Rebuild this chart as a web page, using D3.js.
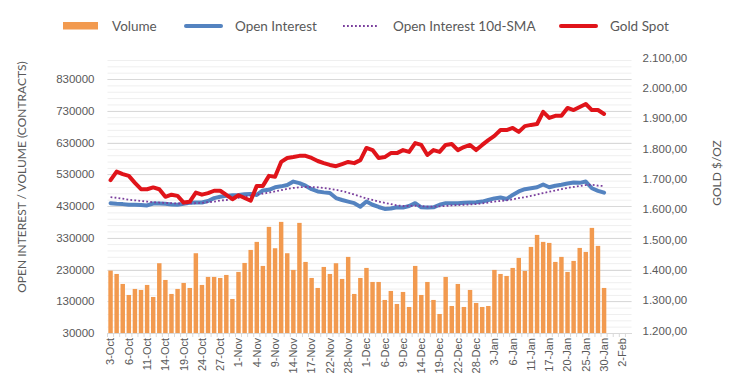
<!DOCTYPE html>
<html><head><meta charset="utf-8">
<script src="https://cdn.jsdelivr.net/npm/d3@7"></script>
<style>
body{margin:0;background:#fff;}
svg{display:block;font-family:Lato,"Open Sans",sans-serif;}
</style></head>
<body><svg id="c" width="753" height="375"></svg>
<script>
const dates = ["3-Oct","4-Oct","5-Oct","6-Oct","7-Oct","10-Oct","11-Oct","12-Oct","13-Oct","14-Oct","17-Oct","18-Oct","19-Oct","20-Oct","21-Oct","24-Oct","25-Oct","26-Oct","27-Oct","28-Oct","31-Oct",
"1-Nov","2-Nov","3-Nov","4-Nov","7-Nov","8-Nov","9-Nov","10-Nov","11-Nov","14-Nov","15-Nov","16-Nov","17-Nov","18-Nov","21-Nov","22-Nov","23-Nov","25-Nov","28-Nov","29-Nov","30-Nov",
"1-Dec","2-Dec","5-Dec","6-Dec","7-Dec","8-Dec","9-Dec","12-Dec","13-Dec","14-Dec","15-Dec","16-Dec","19-Dec","20-Dec","21-Dec","22-Dec","23-Dec","27-Dec","28-Dec","29-Dec","30-Dec",
"3-Jan","4-Jan","5-Jan","6-Jan","9-Jan","10-Jan","11-Jan","12-Jan","13-Jan","17-Jan","18-Jan","19-Jan","20-Jan","23-Jan","24-Jan","25-Jan","26-Jan","27-Jan","30-Jan","31-Jan",
"1-Feb","2-Feb","3-Feb"];

const volume = [226500,216000,184500,149800,168800,165600,181400,143500,249800,197100,153000,168800,187700,171900,281300,181400,206600,206600,203400,212900,137200,
222400,250700,291700,317000,241300,364300,297000,380000,281300,228700,376900,253900,203400,171900,238100,216000,249800,200300,269700,153000,203400,
235000,190800,190800,134100,162400,121500,159300,112000,241300,149800,190800,134100,89900,206600,115100,184500,112000,165600,124600,112000,115100,
228700,216000,209700,235000,266500,225500,301200,339000,317000,313800,253900,269700,222400,257100,298000,285400,361100,304400,171900];

const openInterest = [439000,437000,436000,434000,434000,433000,432000,438000,438000,437000,435000,434000,437000,440000,441000,441000,446000,455000,459000,462000,464000,
465000,467000,468000,465000,479000,481000,489000,492000,496000,507000,502000,494000,483000,476000,473000,471000,455000,449000,444000,439000,428000,
444000,434000,427000,421000,422000,426000,425000,430000,439000,426000,425000,426000,434000,439000,439000,439000,440000,441000,442000,444000,449000,
454000,457000,452000,465000,476000,483000,486000,489000,498000,489000,494000,497000,501000,504000,503000,507000,486000,478000,472000];

const oiSMA = [458000,456000,453000,450000,448000,446000,444000,442000,441000,440000,439000,438000,438000,438000,439000,440000,442000,444000,447000,449000,452000,
456000,460000,463000,466000,469000,472000,476000,480000,484000,487000,489000,490000,490000,489000,487000,484000,481000,477000,472000,466000,460000,
454000,449000,444000,440000,436000,432000,430000,430000,431000,430000,428000,428000,429000,430000,432000,433000,434000,435000,436000,438000,441000,
444000,446000,448000,451000,455000,458000,462000,466000,471000,475000,479000,483000,487000,490000,493000,496000,497000,494000,493000];

const goldSpot = [1704,1732,1724,1718,1695,1674,1674,1680,1674,1649,1656,1652,1630,1633,1663,1656,1661,1669,1669,1655,1641,
1654,1645,1636,1685,1685,1718,1715,1764,1777,1780,1784,1784,1777,1767,1760,1754,1750,1757,1764,1760,1770,
1810,1803,1777,1780,1793,1793,1803,1797,1826,1820,1787,1803,1797,1820,1823,1803,1813,1820,1803,1820,1836,
1850,1869,1869,1876,1863,1882,1886,1889,1929,1909,1916,1916,1942,1935,1945,1955,1935,1935,1922];

const leftTicks = [30000,130000,230000,330000,430000,530000,630000,730000,830000];
const rightTicks = [1200,1300,1400,1500,1600,1700,1800,1900,2000,2100];

const legendItems = ["Volume","Open Interest","Open Interest 10d-SMA","Gold Spot"];

const C = {vol:"#F29A4F", oi:"#5483C0", sma:"#7A3E9D", gold:"#E0141A", grid:"#D9D9D9", minor:"#EFEFEF", text:"#595959"};

const svg = d3.select("#c");
const L = 107.5, R = 631.5, T = 60, B = 333;

const x = d3.scaleBand().domain(dates).range([L, R]).paddingInner(0.27).paddingOuter(0.135);
const xc = d => x(d) + x.bandwidth()/2;
const yL = d3.scaleLinear().domain([30000, 890000]).range([B, T]);
const yR = d3.scaleLinear().domain([1200, 2100]).range([B, T]);

// minor gridlines
const minorVals = d3.range(30000, 890001, 20000);
svg.append("g").selectAll("line").data(minorVals).join("line")
  .attr("x1", L).attr("x2", R).attr("y1", d=>yL(d)+0.5).attr("y2", d=>yL(d)+0.5)
  .attr("stroke", C.minor).attr("stroke-width",1);
svg.append("g").selectAll("line").data(leftTicks.slice(1)).join("line")
  .attr("x1", L).attr("x2", R).attr("y1", d=>Math.round(yL(d))+0.5).attr("y2", d=>Math.round(yL(d))+0.5)
  .attr("stroke", C.grid).attr("stroke-width",1);

// bars
svg.append("g").selectAll("rect").data(volume).join("rect")
  .attr("x", (d,i)=>x(dates[i])).attr("width", x.bandwidth())
  .attr("y", d=>yL(d)).attr("height", d=>B - yL(d)).attr("fill", C.vol);

// x axis
const xAxis = d3.axisBottom(x).tickSizeOuter(0).tickSize(0)
  .tickValues(dates.filter((d,i)=>i%3===0));
const gx = svg.append("g").attr("transform",`translate(0,${B})`).call(xAxis);
gx.select(".domain").attr("stroke", C.grid);
gx.selectAll("text").attr("fill", C.text).style("font-size","11px")
  .attr("transform","rotate(-90)").attr("text-anchor","end")
  .attr("x",-5).attr("y",0).attr("dy","0.35em");
svg.append("g").selectAll("line").data(dates).join("line")
  .attr("x1",(d)=>x(d)-x.step()*x.paddingInner()/2).attr("x2",(d)=>x(d)-x.step()*x.paddingInner()/2)
  .attr("y1",B).attr("y2",B+4).attr("stroke",C.grid);

// left axis
const gl = svg.append("g").attr("transform",`translate(${L},0)`)
  .call(d3.axisLeft(yL).tickValues(leftTicks).tickSize(0).tickPadding(13).tickFormat(d3.format("d")));
gl.select(".domain").remove();
gl.selectAll("text").attr("fill",C.text).style("font-size","11.5px");

// right axis
const fmtR = d => { const s = d3.format(",.2f")(d); return s.replace(/,/g,"#").replace(".",",").replace(/#/g,"."); };
const gr = svg.append("g").attr("transform",`translate(${R},0)`)
  .call(d3.axisRight(yR).tickValues(rightTicks).tickSize(0).tickPadding(11).tickFormat(fmtR));
gr.select(".domain").remove();
gr.selectAll("text").attr("fill",C.text).style("font-size","11.5px").attr("dy","0.1em");

// lines
const lineL = d3.line().x((d,i)=>xc(dates[i])).y(d=>yL(d));
const lineR = d3.line().x((d,i)=>xc(dates[i])).y(d=>yR(d));
svg.append("path").datum(openInterest).attr("d",lineL).attr("fill","none")
  .attr("stroke",C.oi).attr("stroke-width",4).attr("stroke-linejoin","round").attr("stroke-linecap","round");
svg.append("path").datum(oiSMA).attr("d",lineL).attr("fill","none")
  .attr("stroke",C.sma).attr("stroke-width",1.8).attr("stroke-dasharray","1.8,2.2");
svg.append("path").datum(goldSpot).attr("d",lineR).attr("fill","none")
  .attr("stroke",C.gold).attr("stroke-width",4).attr("stroke-linejoin","round").attr("stroke-linecap","round");

// axis titles
svg.append("text").attr("transform",`translate(26,${177}) rotate(-90)`)
  .attr("text-anchor","middle").attr("fill",C.text).style("font-size","12px")
  .text("OPEN INTEREST / VOLUME (CONTRACTS)");
svg.append("text").attr("transform",`translate(721,${173}) rotate(-90)`)
  .attr("text-anchor","middle").attr("fill",C.text).style("font-size","12px")
  .text("GOLD $/OZ");

// legend
const lg = svg.append("g");
const ly = 26;
lg.append("rect").attr("x",63).attr("y",ly-4).attr("width",35).attr("height",7.5).attr("fill",C.vol);
lg.append("line").attr("x1",186).attr("x2",221).attr("y1",ly).attr("y2",ly).attr("stroke",C.oi).attr("stroke-width",4).attr("stroke-linecap","round");
lg.append("line").attr("x1",343).attr("x2",378).attr("y1",ly).attr("y2",ly).attr("stroke",C.sma).attr("stroke-width",1.8).attr("stroke-dasharray","1.8,2.2");
lg.append("line").attr("x1",561).attr("x2",596).attr("y1",ly).attr("y2",ly).attr("stroke",C.gold).attr("stroke-width",4).attr("stroke-linecap","round");
const lx = [112,235,393,610];
lg.selectAll("text").data(legendItems).join("text")
  .attr("x",(d,i)=>lx[i]).attr("y",ly).attr("dy","0.35em").attr("fill",C.text)
  .style("font-size","13.5px").text(d=>d);
</script></body></html>
